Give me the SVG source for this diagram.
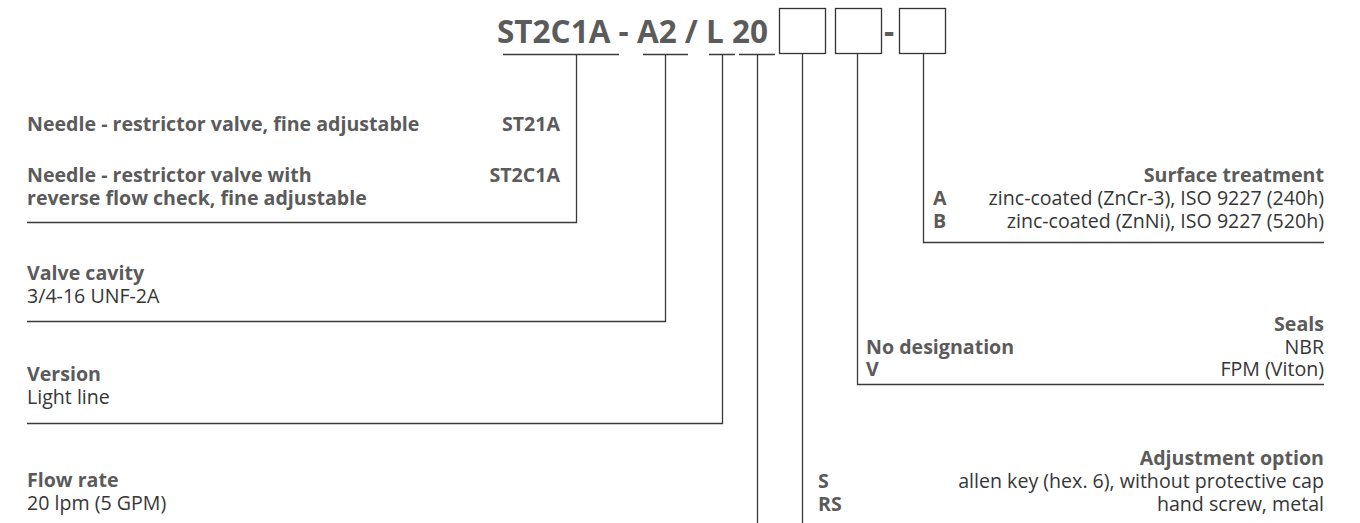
<svg xmlns="http://www.w3.org/2000/svg" width="1360" height="523" viewBox="0 0 1360 523">
<style>
text{font-family:"Open Sans","Noto Sans","Liberation Sans",sans-serif;}
.b{font-weight:700;fill:#5b5b5b;font-size:19.6px;}
.n{font-weight:400;fill:#363636;font-size:19.6px;}
.t{font-weight:700;fill:#5b5b5b;font-size:31.5px;}
.e{text-anchor:end;}
.ln{stroke:#3a3a3a;stroke-width:1.3;fill:none;}
.bx{stroke:#333;stroke-width:1.3;fill:#fff;}
</style>
<rect width="1360" height="523" fill="#fff"/>
<g id="code">
<text class="t" x="497" y="43">ST2C1A - A2 / L 20</text>
<rect class="bx" x="779.5" y="8.5" width="46" height="45"/>
<rect class="bx" x="835.5" y="8.5" width="46" height="45"/>
<text class="t" x="884" y="43">-</text>
<rect class="bx" x="899.5" y="8.5" width="46" height="45"/>
</g>
<g id="connectors">
<path class="ln" d="M503 54.5H619M643 54.5H688M709 54.5H735M739 54.5H775"/>
<path class="ln" d="M576.5 54.5V222.5H27"/>
<path class="ln" d="M665.5 54.5V321.5H27"/>
<path class="ln" d="M722.5 54.5V423.5H27"/>
<path class="ln" d="M757.5 54.5V523"/>
<path class="ln" d="M802.5 53.5V523"/>
<path class="ln" d="M857.5 53.5V384.5H1324"/>
<path class="ln" d="M923.5 53.5V242.5H1324"/>
</g>
<g id="valve-type">
<text class="b" x="27" y="131">Needle - restrictor valve, fine adjustable</text>
<text class="b e" x="560" y="131">ST21A</text>
<text class="b" x="27" y="182">Needle - restrictor valve with</text>
<text class="b e" x="560" y="182">ST2C1A</text>
<text class="b" x="27" y="205">reverse flow check, fine adjustable</text>
</g>
<g id="valve-cavity">
<text class="b" x="27" y="280">Valve cavity</text>
<text class="n" x="27" y="303">3/4-16 UNF-2A</text>
</g>
<g id="version">
<text class="b" x="27" y="381">Version</text>
<text class="n" x="27" y="404">Light line</text>
</g>
<g id="flow-rate">
<text class="b" x="27" y="487">Flow rate</text>
<text class="n" x="27" y="510">20 lpm (5 GPM)</text>
</g>
<g id="surface-treatment">
<text class="b e" x="1324" y="182">Surface treatment</text>
<text class="b" x="933" y="205">A</text>
<text class="n e" x="1324" y="205">zinc-coated (ZnCr-3), ISO 9227 (240h)</text>
<text class="b" x="933" y="228">B</text>
<text class="n e" x="1324" y="228">zinc-coated (ZnNi), ISO 9227 (520h)</text>
</g>
<g id="seals">
<text class="b e" x="1324" y="331">Seals</text>
<text class="b" x="866" y="354">No designation</text>
<text class="n e" x="1324" y="354">NBR</text>
<text class="b" x="866" y="376">V</text>
<text class="n e" x="1324" y="376">FPM (Viton)</text>
</g>
<g id="adjustment">
<text class="b e" x="1324" y="465">Adjustment option</text>
<text class="b" x="818" y="488">S</text>
<text class="n e" x="1324" y="488">allen key (hex. 6), without protective cap</text>
<text class="b" x="818" y="511">RS</text>
<text class="n e" x="1324" y="511">hand screw, metal</text>
</g>
</svg>
